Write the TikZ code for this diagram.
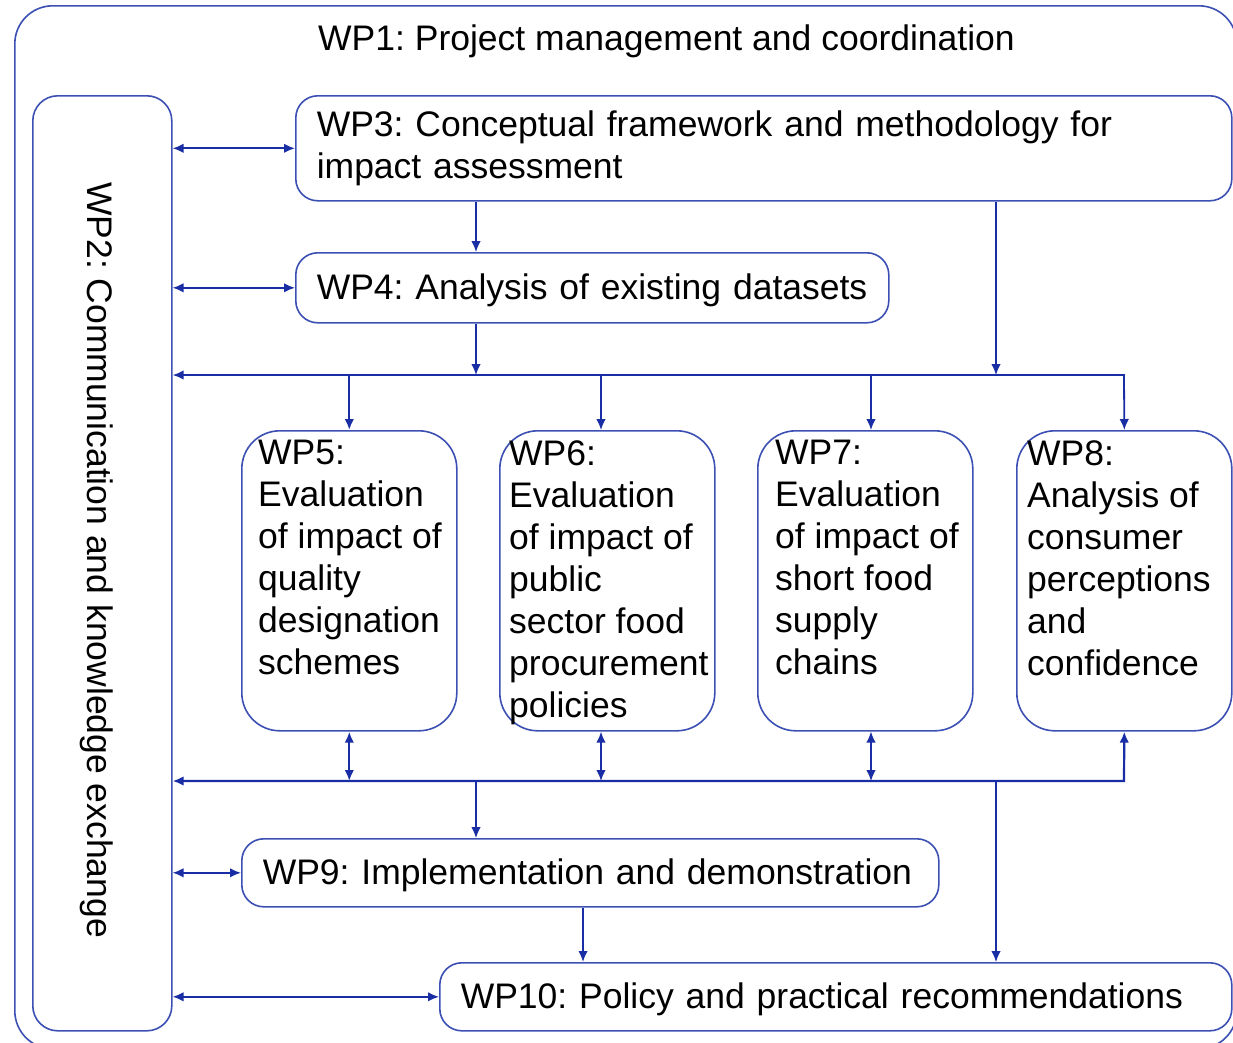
\documentclass[tikz,border=0pt]{standalone}
\usepackage{fontspec}
\setmainfont{Liberation Sans}
\usetikzlibrary{arrows.meta,calc}
\definecolor{boxc}{RGB}{60,80,180}
\definecolor{arrc}{RGB}{25,45,165}
\newcommand{\lowered}[1]{\raisebox{-3pt}[\height][\depth]{#1}}
\tikzset{
  fnt/.style={font=\fontsize{35.5}{42}\selectfont\frenchspacing},
  box/.style={draw=boxc, line width=1.6pt, fill=none, fnt, anchor=north west, inner ysep=0pt},
  sbox/.style={box, rounded corners=22pt, inner xsep=21pt, align=left},
  tallbox/.style={box, rounded corners=38pt, minimum width=215pt, minimum height=300pt},
  txt/.style={fnt, inner sep=0pt, align=left, text=black},
  tip/.tip={Latex[length=11pt,width=9.5pt]},
  conn/.style={draw=arrc, line width=#1, -tip},
  conn/.default=1.6pt,
  dconn/.style={draw=arrc, line width=#1, tip-tip},
  dconn/.default=1.6pt,
}
\begin{document}
\begin{tikzpicture}[x=1pt,y=-1pt]
\useasboundingbox (0,0) rectangle (1233,1042);
\fill[white] (0,0) rectangle (1233,1042);
\begin{scope}
\clip (0,0) rectangle (1233,1042);
\node[box, rounded corners=38pt, minimum width=1222pt, minimum height=1043pt] (wp1) at (14,5) {};
\end{scope}
\node[txt, anchor=base west] (wp1t) at (318,50) {WP1: Project management and coordination};

% WP2
\node[box, rounded corners=25pt, minimum width=139pt, minimum height=935pt] (wp2) at (32,95) {};
\node[txt, rotate=-90] (wp2t) at (97,560) {WP2: Communication and knowledge exchange};

% WP3, WP4
\node[sbox, minimum width=936pt, minimum height=105pt, text width=894pt] (wp3) at (295,95)
  {\mbox{WP3: Conceptual framework and methodology for}\\\mbox{impact assessment}};
\node[sbox, minimum width=593pt, minimum height=70pt, text width=551pt] (wp4) at (295,252)
  {\lowered{\mbox{WP4: Analysis of existing datasets}}};

% WP5 - WP8
\node[tallbox] (wp5) at (241,430) {};
\node[tallbox] (wp6) at (499,430) {};
\node[tallbox] (wp7) at (757,430) {};
\node[tallbox] (wp8) at (1016,430) {};
\node[txt, anchor=north west] (wp5t) at (258,440) {WP5:\\Evaluation\\of impact of\\quality\\designation\\schemes};
\node[txt, anchor=north west] (wp6t) at (509,440) {WP6:\\Evaluation\\of impact of\\public\\sector food\\procurement\\policies};
\node[txt, anchor=north west] (wp7t) at (775,440) {WP7:\\Evaluation\\of impact of\\short food\\supply\\chains};
\node[txt, anchor=north west] (wp8t) at (1027,440) {WP8:\\Analysis of\\consumer\\perceptions\\and\\confidence};

% WP9, WP10
\node[sbox, minimum width=697pt, minimum height=68pt, text width=655pt] (wp9) at (241,838)
  {\lowered{\mbox{WP9: Implementation and demonstration}}};
\node[sbox, minimum width=792pt, minimum height=68pt, text width=750pt] (wp10) at (439,962)
  {\lowered{\mbox{WP10: Policy and practical recommendations}}};

% junction coordinates
\coordinate (xa) at (476,375);
\coordinate (xb) at (996,375);
\coordinate (x6) at (601,375);
\coordinate (x7) at (871,375);
\coordinate (b1e) at (1124,375);
\coordinate (b2e) at (1124,781);
\coordinate (x9) at (583,906);

% WP2 links
\draw[dconn=1.8pt] (wp2.east |- wp3.west) -- (wp3.west);
\draw[dconn=1.8pt] (wp2.east |- wp4.west) -- (wp4.west);
\draw[dconn=1.8pt] (wp2.east |- wp9.west) -- (wp9.west);
\draw[dconn=1.8pt] (wp2.east |- wp10.west) -- (wp10.west);

% upper flow
\draw[conn=1.3pt] (wp3.south -| xa) -- (wp4.north -| xa);
\draw[conn=1.3pt] (wp4.south -| xa) -- (xa);
\draw[conn=1.3pt] (wp3.south -| xb) -- (xb);
\draw[dconn=1.8pt] (wp2.east |- b1e) -- (b1e) -- (wp8.north);
\draw[conn=2.2pt] (wp5.north |- b1e) -- (wp5.north);
\draw[conn=1.7pt] (x6) -- (wp6.north -| x6);
\draw[conn=1.7pt] (x7) -- (wp7.north -| x7);

% lower bus
\draw[dconn=2.2pt] (wp2.east |- b2e) -- (b2e) -- (wp8.south);
\draw[dconn=2.2pt] (wp5.south) -- (wp5.south |- b2e);
\draw[dconn=1.7pt] (wp6.south -| x6) -- (x6 |- b2e);
\draw[dconn=1.3pt] (wp7.south -| x7) -- (x7 |- b2e);
\draw[conn=1.3pt] (xa |- b2e) -- (wp9.north -| xa);
\draw[conn=1.3pt] (xb |- b2e) -- (wp10.north -| xb);
\draw[conn=2pt] (wp9.south -| x9) -- (wp10.north -| x9);
\end{tikzpicture}
\end{document}
